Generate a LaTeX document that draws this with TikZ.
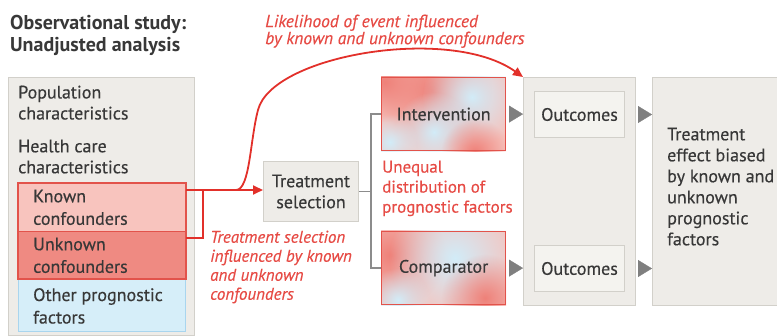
\documentclass[tikz,border=0pt]{standalone}
\usepackage{fontspec}
\setmainfont{PT Sans}[UprightFeatures={FakeBold=0.35},ItalicFeatures={FakeBold=0.35}]
\usetikzlibrary{arrows.meta,calc,fadings,backgrounds}
\definecolor{boxfill}{HTML}{EEECE8}
\definecolor{boxline}{HTML}{D2D0CA}
\definecolor{innerfill}{HTML}{F4F3EF}
\definecolor{darktext}{HTML}{383838}
\definecolor{redtext}{HTML}{E64B45}
\definecolor{redline}{HTML}{E2302A}
\definecolor{knownfill}{HTML}{F8C4BE}
\definecolor{unknownfill}{HTML}{EF8A82}
\definecolor{otherfill}{HTML}{D6EEF9}
\definecolor{otherline}{HTML}{A9D5EE}
\definecolor{confline}{HTML}{E2534B}
\definecolor{grayconn}{HTML}{8C8C8C}
\definecolor{arrowgray}{HTML}{7F7F7F}
\definecolor{pinkbase}{HTML}{F6C2BC}
\definecolor{blobred}{HTML}{EF8179}
\definecolor{blobblue}{HTML}{D2ECF8}
\tikzfading[name=fuzzyblob, inner color=transparent!0, outer color=transparent!100]
\begin{document}
\begin{tikzpicture}[x=1pt,y=-1pt,
  graybox/.style={draw=boxline, fill=boxfill, line width=1pt, rectangle, inner sep=0pt, anchor=north west},
  innerbox/.style={draw=boxline, fill=innerfill, line width=1pt, rectangle, inner sep=0pt, anchor=north west, text=darktext, font=\fontsize{18}{21}\selectfont},
  txt/.style={text=darktext, font=\fontsize{18}{21}\selectfont, inner sep=0pt, align=left, anchor=north west},
  redtxt/.style={text=redtext, font=\fontsize{17}{19}\selectfont\itshape, inner sep=0pt, align=left, anchor=north west},
  redup/.style={text=redtext, font=\fontsize{17}{20}\selectfont, inner sep=0pt, align=left, anchor=north west},
  confbox/.style={draw=confline, line width=1pt, rectangle, inner sep=0pt, anchor=north west, minimum width=167pt},
  armbox/.style={draw=confline, line width=1.2pt, rectangle, inner sep=0pt, anchor=north west, minimum width=124pt, minimum height=73pt, text=darktext, font=\fontsize{18}{21}\selectfont},
  redconn/.style={draw=redline, line width=1.8pt},
  redarrow/.style={redconn, -{Triangle[length=10pt,width=9pt]}},
  grayconnector/.style={draw=grayconn, line width=1.5pt},
  grayarrow/.style={draw=arrowgray, fill=arrowgray, line width=0.3pt, -{Triangle[length=14pt,width=17pt]}},
  blob/.style={path fading=fuzzyblob}
]
\useasboundingbox (0,0) rectangle (777,336);
\clip (0,0) rectangle (777,336);

% title
\node[txt, font=\fontsize{20}{22}\selectfont\bfseries] (title) at (10,15.5) {Observational study:\\Unadjusted analysis};

% left panel
\node[graybox, minimum width=186pt, minimum height=258pt] (left) at (8,77) {};
\node[txt] (pop) at (18,85.5) {Population\\characteristics};
\node[txt] (hc) at (18,139.5) {Health care\\characteristics};
\node[confbox, fill=knownfill, minimum height=48pt] (known) at (18,183) {};
\node[confbox, fill=unknownfill, minimum height=47pt] (unknown) at (18,231) {};
\node[confbox, fill=otherfill, draw=otherline, minimum height=53pt] (other) at (18,278) {};
\draw[confline, line width=1.2pt] (known.north west) rectangle (unknown.south east);
\node[txt, font=\fontsize{18}{22.5}\selectfont] (knowntxt) at (33,189.5) {Known\\confounders};
\node[txt, font=\fontsize{18}{22.5}\selectfont] (unknowntxt) at (33,237.5) {Unknown\\confounders};
\node[txt, font=\fontsize{18}{22.5}\selectfont] (othertxt) at (33,288) {Other prognostic\\factors};

% treatment selection
\node[graybox, minimum width=95pt, minimum height=60pt, align=center, text=darktext, font=\fontsize{18}{21}\selectfont] (ts) at (263,161) {Treatment\\selection};

% arms
\node[armbox] (interv) at (381,77) {Intervention};
\node[armbox] (comp) at (381,231) {Comparator};
\begin{scope}[on background layer]
  \fill[pinkbase] (interv.north west) rectangle (interv.south east);
  \begin{scope}
    \clip (interv.north west) rectangle (interv.south east);
    \fill[blobred, blob] (432,90) circle (60);
    \fill[blobred, blob] (385,82) circle (40);
    \fill[blobblue, blob] (472,97) circle (50);
    \fill[blobblue, blob] (434,132) circle (40);
    \fill[blobblue, blob] (390,142) circle (28);
    \fill[blobred, blob] (475,152) circle (34);
  \end{scope}
  \fill[pinkbase] (comp.north west) rectangle (comp.south east);
  \begin{scope}
    \clip (comp.north west) rectangle (comp.south east);
    \fill[blobred, blob] (390,255) circle (56);
    \fill[blobblue, blob] (455,258) circle (66);
    \fill[blobblue, blob] (398,300) circle (32);
    \fill[blobred, blob] (485,298) circle (44);
  \end{scope}
\end{scope}

% outcomes
\node[graybox, minimum width=112pt, minimum height=228pt] (outbig) at (523,77) {};
\node[innerbox, minimum width=90pt, minimum height=46pt] (out1) at (534,91) {Outcomes};
\node[innerbox, minimum width=90pt, minimum height=46pt] (out2) at (534,245) {Outcomes};

% right box
\node[graybox, minimum width=140pt, minimum height=228pt] (effect) at (652,77) {};
\node[txt, font=\fontsize{18}{21}\selectfont] (effecttxt) at (667,127.5) {Treatment\\effect biased\\by known and\\unknown\\prognostic\\factors};

% red annotations
\node[redtxt, font=\fontsize{17.5}{17}\selectfont\itshape] (likely) at (265,14.5) {Likelihood of event influenced\\by known and unknown confounders};
\node[redtxt] (tsinfl) at (210,230.5) {Treatment selection\\influenced by known\\and unknown\\confounders};
\node[redup] (unequal) at (382,160.5) {Unequal\\distribution of\\prognostic factors};

% red connectors
\coordinate (bk1) at ($(known.north east)+(0,7)$);
\coordinate (bk2) at ($(unknown.north east)+(0,7)$);
\coordinate (bkx) at (203,190);
\coordinate (branch) at (236,190);
\draw[redconn] (bk1) -- (bkx) |- (bk2);
\draw[redarrow] (bkx) -- (ts.west |- bkx);
\draw[redarrow] (branch) .. controls (250,190) and (250,140) .. (258,110)
  .. controls (272,55) and (450,25) .. (outbig.north west);

% gray connectors
\coordinate (gx) at (371,190);
\draw[grayconnector] (ts.east) -- (ts.east -| gx);
\draw[grayconnector] (interv.west) -- (interv.west -| gx) -- (comp.west -| gx) -- (comp.west);

% gray arrowheads
\draw[grayarrow] ($(interv.east)+(4,0)$) -- (outbig.west |- interv.east);
\draw[grayarrow] ($(comp.east)+(4,0)$) -- (outbig.west |- comp.east);
\draw[grayarrow] ($(outbig.east |- out1.east)+(3,0)$) -- (effect.west |- out1.east);
\draw[grayarrow] ($(outbig.east |- out2.east)+(3,0)$) -- (effect.west |- out2.east);
\end{tikzpicture}
\end{document}
